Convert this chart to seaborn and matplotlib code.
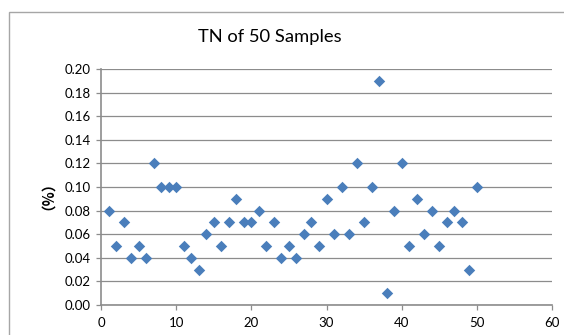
import matplotlib
matplotlib.use("Agg")
import matplotlib.pyplot as plt
import matplotlib.patches as mpatches
import seaborn as sns
import pandas as pd

# TN measurements for samples 1-50 (percent)
sample_no = list(range(1, 51))
tn_values = [
    0.08, 0.05, 0.07, 0.04, 0.05, 0.04, 0.12, 0.10, 0.10, 0.10,
    0.05, 0.04, 0.03, 0.06, 0.07, 0.05, 0.07, 0.09, 0.07, 0.07,
    0.08, 0.05, 0.07, 0.04, 0.05, 0.04, 0.06, 0.07, 0.05, 0.09,
    0.06, 0.10, 0.06, 0.12, 0.07, 0.10, 0.19, 0.01, 0.08, 0.12,
    0.05, 0.09, 0.06, 0.08, 0.05, 0.07, 0.08, 0.07, 0.03, 0.10,
]
x_ticks = [0, 10, 20, 30, 40, 50, 60]
y_ticks = [0.00, 0.02, 0.04, 0.06, 0.08, 0.10, 0.12, 0.14, 0.16, 0.18, 0.20]
title_text = "TN of 50 Samples"
y_label = "（%）"

df = pd.DataFrame({"sample": sample_no, "tn": tn_values})

sns.set_style("white")
plt.rcParams["font.family"] = ["Lato", "DejaVu Sans"]

W, H = 564, 335
fig = plt.figure(figsize=(W / 100, H / 100), dpi=100)
fig.patch.set_facecolor("white")

# chart-area frame
frame = mpatches.Rectangle((9 / W, -0.1), 1.2, (H - 12) / H + 0.1,
                           transform=fig.transFigure, fill=False,
                           edgecolor="#a6a6a6", linewidth=1.0)
fig.add_artist(frame)

ax = fig.add_axes([101 / W, 30 / H, (552 - 101) / W, (305 - 69) / H])
sns.scatterplot(data=df, x="sample", y="tn", ax=ax, marker="D", s=34,
                color="#4a7ebb", linewidth=0, zorder=3)

ax.set_xlim(0, 60)
ax.set_ylim(0, 0.20)
ax.set_xticks(x_ticks)
ax.set_yticks(y_ticks)
ax.set_yticklabels([f"{v:.2f}" for v in y_ticks])
ax.grid(axis="y", color="#8c8c8c", linewidth=0.9)
ax.set_axisbelow(True)

for side in ("top", "right"):
    ax.spines[side].set_visible(False)
for side in ("left", "bottom"):
    ax.spines[side].set_color("#8c8c8c")
    ax.spines[side].set_linewidth(1.2)

ax.tick_params(axis="both", which="both", direction="out", length=3.5,
               width=0.9, color="#8c8c8c", labelsize=9.5,
               labelcolor="black")
ax.tick_params(axis="x", pad=5)
ax.tick_params(axis="y", pad=4)
ax.tick_params(left=True, bottom=True)

ax.set_xlabel("")
ax.set_ylabel("")

# rotated unit label on the left of the value axis
fig.text(40 / W, 1 - 188 / H, y_label, rotation=90, ha="center", va="center",
         fontsize=10.5, fontweight="bold", color="black",
         family=["Noto Sans CJK SC", "DejaVu Sans"])

fig.text(270 / W, 1 - 37 / H, title_text, ha="center", va="center",
         fontsize=13.2, color="black")

fig.savefig("out.png", dpi=100)
